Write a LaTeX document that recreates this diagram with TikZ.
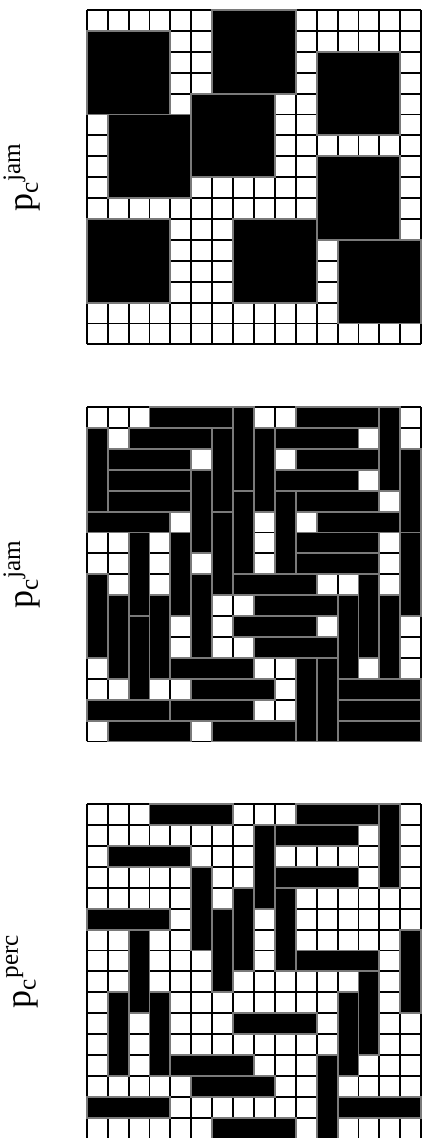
\documentclass[tikz,border=0pt]{standalone}
\usepackage{fontspec}
\setmainfont{Liberation Serif}
\usepackage{xcolor}
\definecolor{cellline}{HTML}{000000}
\definecolor{blockedge}{HTML}{7A7A7A}

\begin{document}
\begin{tikzpicture}[x=10.45pt,y=10.45pt,
  lattice/.style={step=1,line width=0.95pt,color=cellline},
  block/.style={fill=black,draw=blockedge,line width=0.95pt},
  regime/.style={rotate=90,inner sep=0pt,font=\fontsize{18}{21}\selectfont}]
\useasboundingbox (0,0) rectangle (20.144,-54.45);
\def\ox{4.153}
\foreach \k/\phase in {0/jam,1/jam,2/perc}{
  \draw[lattice,shift={(\ox,{-0.478-19*\k})}] (0,0) grid (16,-16);
  \node[regime] (label\k) at (1.05,{-8.478-19*\k}) {p\textsubscript{c}\textsuperscript{\phase}};
}
% squares
\begin{scope}[shift={(\ox,-0.478)}]
  \foreach \c/\r in {0/1,6/0,11/2,1/5,5/4,11/7,0/10,7/10,12/11}
    \filldraw[block] (\c,-\r) rectangle ++(4,-4);
\end{scope}
% rods, jammed
\begin{scope}[shift={(\ox,-19.478)}]
  \foreach \c/\r in {3/0,10/0,2/1,9/1,1/2,10/2,1/3,9/3,1/4,10/4,0/5,11/5,10/6,10/7,
    7/8,8/9,7/10,8/11,4/12,5/13,12/13,0/14,4/14,12/14,1/15,6/15,12/15}
    \filldraw[block] (\c,-\r) rectangle ++(4,-1);
  \foreach \c/\r in {7/0,14/0,0/1,6/1,8/1,15/2,5/3,7/4,9/4,6/5,2/6,4/6,15/6,
    0/8,5/8,13/8,1/9,3/9,12/9,14/9,2/10,10/12,11/12}
    \filldraw[block] (\c,-\r) rectangle ++(1,-4);
\end{scope}
% rods, percolating
\begin{scope}[shift={(\ox,-38.478)}]
  \foreach \c/\r in {3/0,10/0,9/1,1/2,9/3,0/5,10/7,7/10,4/12,5/13,0/14,12/14,6/15}
    \filldraw[block] (\c,-\r) rectangle ++(4,-1);
  \foreach \c/\r in {14/0,8/1,5/3,7/4,9/4,6/5,2/6,15/6,13/8,1/9,3/9,12/9,11/12}
    \filldraw[block] (\c,-\r) rectangle ++(1,-4);
\end{scope}
\end{tikzpicture}
\end{document}
